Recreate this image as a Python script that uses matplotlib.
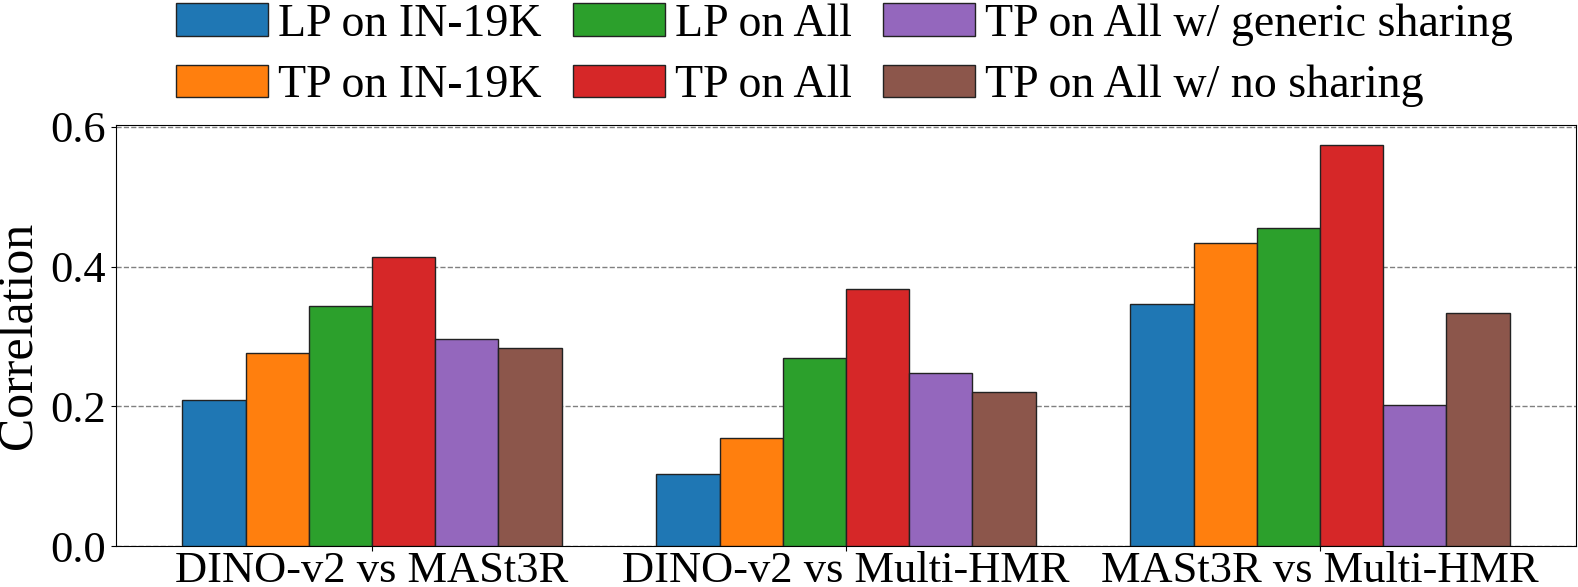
import matplotlib
matplotlib.use("Agg")
import matplotlib.pyplot as plt
import numpy as np

plt.rcParams['font.family'] = ['Liberation Serif', 'DejaVu Serif']

pairs = ['DINO-v2 vs MASt3R', 'DINO-v2 vs Multi-HMR', 'MASt3R vs Multi-HMR']
labels = ['LP on IN-19K', 'TP on IN-19K', 'LP on All', 'TP on All',
          'TP on All w/ generic sharing', 'TP on All w/ no sharing']

lp_in19k = [0.209, 0.103, 0.346]
tp_in19k = [0.276, 0.155, 0.434]
lp_all = [0.344, 0.269, 0.455]
tp_all = [0.414, 0.368, 0.574]
tp_generic = [0.296, 0.247, 0.202]
tp_nosharing = [0.283, 0.221, 0.333]

series = [lp_in19k, tp_in19k, lp_all, tp_all, tp_generic, tp_nosharing]
colors = ['#1f77b4', '#ff7f0e', '#2ca02c', '#d62728', '#9467bd', '#8c564b']

fig = plt.figure(figsize=(15.78, 5.87), dpi=100)
ax = fig.add_axes([116/1578, 1 - 546/587, (1576-116)/1578, (546-125)/587])

x = np.arange(len(pairs))
w = 0.8 / len(series)
for i, (vals, lab, c) in enumerate(zip(series, labels, colors)):
    ax.bar(x + (i - 2.5) * w, vals, w, color=c, edgecolor='#222222',
           linewidth=1, label=lab, zorder=3)

ax.set_xticks(x)
ax.set_xticklabels(pairs, fontsize=32)
ax.set_yticks([0.0, 0.2, 0.4, 0.6])
ax.set_yticklabels(['0.0', '0.2', '0.4', '0.6'], fontsize=32)
ax.set_ylabel('Correlation', fontsize=36, labelpad=6)
ax.tick_params(axis='x', pad=0)
ax.yaxis.grid(True, linestyle='--', color='gray', linewidth=1, zorder=0)
ax.set_axisbelow(True)

fig.legend(loc='upper left', bbox_to_anchor=(176/1578, 1 - 3/587),
           ncol=3, frameon=False, fontsize=33, borderpad=0, borderaxespad=0,
           handlelength=2.0, handleheight=0.7, handletextpad=0.22,
           columnspacing=0.69, labelspacing=0.42)

fig.savefig('out.png', dpi=100)
